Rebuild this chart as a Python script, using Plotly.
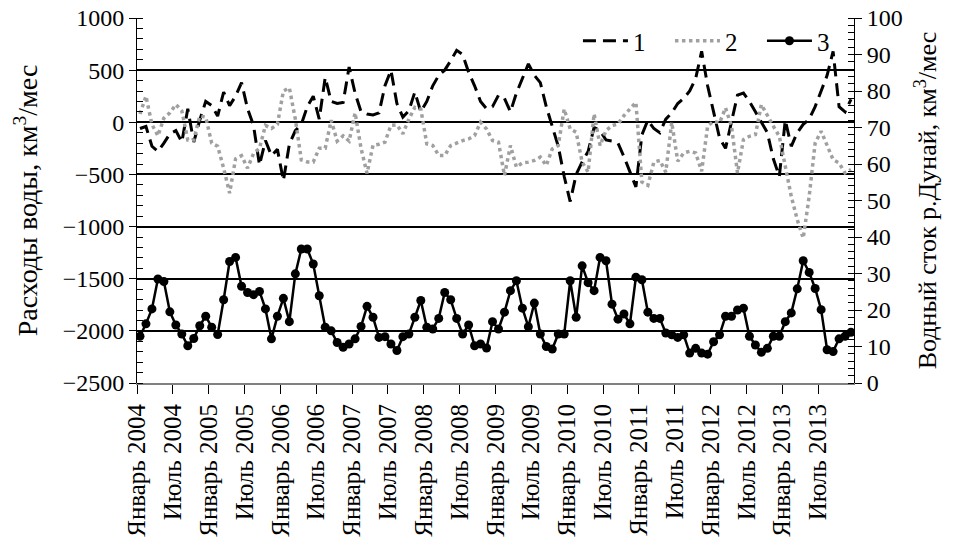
import plotly.graph_objects as go

months = list(range(120))
tick_months = list(range(0, 120, 6))
tick_labels = []
for y in range(2004, 2014):
    tick_labels += [f"Январь {y}", f"Июль {y}"]

s1 = [-60, -40, -230, -280, -200, -110, -80, -190, 130, -190,
      20, 200, 160, 60, 290, 160, 250, 380, 130, -30,
      -410, -175, -320, -260, -560, -210, -80, -20, 150, 250,
      30, 430, 200, 180, 190, 530, 280, 100, 80, 70,
      90, 350, 500, 180, 50, 110, 290, 100, 200, 350,
      450, 500, 590, 690, 650, 480, 350, 200, 130, 150,
      260, 230, 100, 280, 420, 560, 450, 380, 150, -30,
      -230, -520, -760, -500, -380, -280, -50, -80, -170, -180,
      -200, -330, -470, -620, -120, 20, -60, -100, 30, 90,
      180, 230, 300, 420, 680, 350, 100, -150, -250, 0,
      260, 280, 200, 100, 0, -100, -350, -520, 20, -230,
      -100, -20, 30, 150, 300, 450, 680, 150, 100, 220]

s2 = [80, 250, -20, -130, 40, 90, 170, 110, -170, -170,
      60, 50, -200, -230, -440, -680, -350, -320, -440, -300,
      -250, -30, -60, -20, 300, 330, 30, -360, -380, -380,
      -250, -250, 20, -180, -130, -180, 90, -250, -490, -220,
      -210, -190, -30, -25, -110, 30, 143, 127, -207, -223,
      -318, -318, -223, -197, -175, -160, -127, 0, -64, -175,
      -191, -510, -223, -430, -389, -382, -366, -334, -414, -255,
      -223, 127, -64, -95, -382, -478, 80, -223, -80, -32,
      -16, 64, 127, 191, -573, -605, -382, -366, -478, 0,
      -374, -294, -278, -294, -470, -38, 10, -6, 138, -38,
      -486, -166, -134, -118, 170, 58, -38, -134, -422, -710,
      -934, -1110, -710, -198, -86, -230, -358, -390, -486, -454]

s3 = [12.8, 16.2, 20.3, 28.5, 27.8, 19.5, 15.9, 13.4, 10.2, 12.2,
      15.7, 18.3, 15.3, 13.3, 22.8, 33.3, 34.4, 26.5, 24.8, 24.2,
      25.1, 20.3, 12.1, 18.3, 23.2, 16.8, 29.9, 36.7, 36.7, 32.6,
      23.9, 15.3, 14.3, 11.1, 9.8, 10.7, 12.1, 15.5, 21.0, 18.0,
      12.5, 12.7, 10.7, 8.9, 12.7, 13.4, 18.0, 22.6, 15.3, 14.8,
      17.7, 24.8, 22.8, 17.7, 13.4, 15.9, 10.2, 10.7, 9.6, 16.8,
      14.8, 19.4, 25.3, 28.0, 20.5, 15.4, 21.9, 13.4, 10.0, 9.3,
      13.4, 13.4, 28.0, 18.0, 32.1, 27.5, 25.3, 34.4, 33.5, 21.6,
      17.5, 18.9, 16.2, 29.0, 28.3, 19.4, 17.7, 17.7, 13.7, 13.2,
      12.5, 13.2, 8.2, 9.5, 8.2, 7.9, 11.3, 13.2, 18.3, 18.3,
      20.0, 20.5, 12.8, 10.4, 8.4, 9.5, 12.8, 12.8, 16.8, 19.2,
      25.8, 33.5, 30.3, 25.9, 20.1, 9.1, 8.6, 12.1, 12.8, 13.9]

x = [m + 0.5 for m in months]
FONT = '"Liberation Serif", "Times New Roman", serif'

fig = go.Figure()
fig.add_trace(go.Scatter(x=x, y=s1, name="1", mode="lines",
                         line=dict(color="black", width=3, dash="13px,7px")))
fig.add_trace(go.Scatter(x=x, y=s2, name="2", mode="lines",
                         line=dict(color="#a0a0a0", width=3.5, dash="dot")))
fig.add_trace(go.Scatter(x=x, y=s3, name="3", mode="lines+markers", yaxis="y2",
                         line=dict(color="black", width=2.5),
                         marker=dict(color="black", size=9)))

fig.update_layout(
    width=954, height=540,
    margin=dict(l=129, r=108, t=10, b=165, autoexpand=False),
    paper_bgcolor="white", plot_bgcolor="white",
    font=dict(family=FONT, size=24, color="black"),
    showlegend=True,
    legend=dict(orientation="h", x=0.615, xanchor="left", y=1.0, yanchor="top",
                bgcolor="rgba(0,0,0,0)", font=dict(family=FONT, size=25), itemwidth=45,
                entrywidth=32, traceorder="normal"),
    xaxis=dict(range=[0, 120], tickmode="array", tickvals=tick_months, ticktext=tick_labels,
               tickangle=-90, ticks="outside", ticklen=9, tickcolor="black", tickwidth=1,
               showline=True, linecolor="#808080", linewidth=2, showgrid=False,
               zeroline=False, automargin=False, ticklabeloverflow="allow",
               tickfont=dict(family=FONT, size=25)),
    yaxis=dict(range=[-2500, 1000], dtick=500, tick0=-2500, ticks="outside", ticklen=7,
               tickcolor="black", showline=True, linecolor="black", linewidth=1,
               showgrid=True, gridcolor="black", gridwidth=1.5, zeroline=False,
               automargin=False, ticklabeloverflow="allow",
               minor=dict(dtick=100, ticks="inside", ticklen=6, tickcolor="black", showgrid=False),
               title=dict(text="Расходы воды, км<sup>3</sup>/мес", font=dict(family=FONT, size=28), standoff=16),
               tickfont=dict(family=FONT, size=24)),
    yaxis2=dict(range=[0, 100], dtick=10, overlaying="y", side="right", ticks="outside",
                ticklen=7, tickcolor="black", showline=True, linecolor="black", linewidth=1,
                showgrid=False, zeroline=False, automargin=False, ticklabeloverflow="allow",
                minor=dict(dtick=2, ticks="inside", ticklen=6, tickcolor="black"),
                title=dict(text="Водный сток р.Дунай, км<sup>3</sup>/мес", font=dict(family=FONT, size=26), standoff=16),
                tickfont=dict(family=FONT, size=24)),
)

fig.write_html("out.html")
